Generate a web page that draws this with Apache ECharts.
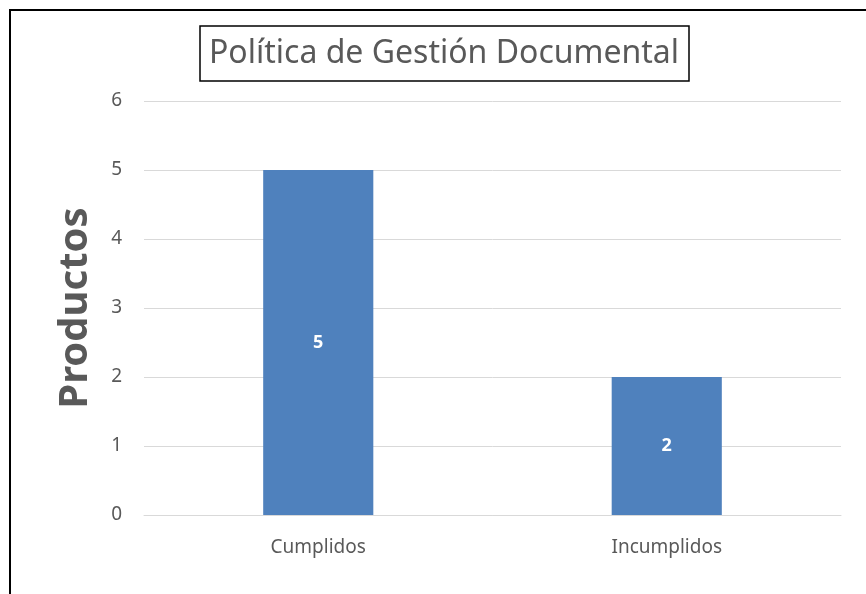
<!DOCTYPE html>
<html>
<head>
    <meta charset="utf-8">
    <title>Política de Gestión Documental</title>
    <script src="https://cdn.jsdelivr.net/npm/echarts@6/dist/echarts.min.js"></script>
    <style>
        html, body { margin: 0; padding: 0; background: #fff; }
        #chart { width: 866px; height: 594px; }
    </style>
</head>
<body>
<div id="chart"></div>
<script>
    // datos del gráfico
    var categorias = ['Cumplidos', 'Incumplidos'];
    var productos = [5, 2];
    var ejeY = [0, 1, 2, 3, 4, 5, 6];

    var fuente = 'Noto Sans';
    var gris = '#595959';

    var chart = echarts.init(document.getElementById('chart'));
    var option = {
        animation: false,
        backgroundColor: '#ffffff',
        title: {
            text: 'Política de Gestión Documental',
            left: 200,
            top: 26,
            padding: [12, 10, 11, 9],
            borderColor: '#000000',
            borderWidth: 1.5,
            textStyle: {
                fontFamily: fuente,
                fontSize: 32,
                fontWeight: 'normal',
                color: gris
            }
        },
        graphic: [
            {
                type: 'rect',
                shape: { x: 10, y: 10, width: 880, height: 620 },
                style: { fill: 'none', stroke: '#000000', lineWidth: 2 }
            }
        ],
        grid: {
            left: 144,
            right: 25,
            top: 101,
            bottom: 79
        },
        xAxis: {
            type: 'category',
            data: categorias,
            axisLine: { show: true, lineStyle: { color: '#d9d9d9', width: 1 } },
            axisTick: { show: false },
            axisLabel: {
                fontFamily: fuente,
                fontSize: 19,
                color: gris,
                margin: 23
            }
        },
        yAxis: {
            type: 'value',
            min: ejeY[0],
            max: ejeY[ejeY.length - 1],
            interval: 1,
            name: 'Productos',
            nameLocation: 'middle',
            nameGap: 48,
            nameTextStyle: {
                fontFamily: fuente,
                fontSize: 40,
                fontWeight: 'bold',
                color: gris
            },
            axisLine: { show: false },
            axisTick: { show: false },
            axisLabel: {
                fontFamily: fuente,
                fontSize: 19,
                color: gris,
                margin: 22
            },
            splitLine: { lineStyle: { color: '#d9d9d9', width: 1 } }
        },
        series: [
            {
                type: 'bar',
                data: productos,
                barWidth: '31.6%',
                itemStyle: { color: '#4f81bd' },
                label: {
                    show: true,
                    position: 'inside',
                    fontFamily: fuente,
                    fontSize: 18,
                    fontWeight: 'bold',
                    color: '#ffffff'
                }
            }
        ]
    };
    chart.setOption(option);

    window.onresize = function () {
        chart.resize();
    };
</script>
</body>
</html>
